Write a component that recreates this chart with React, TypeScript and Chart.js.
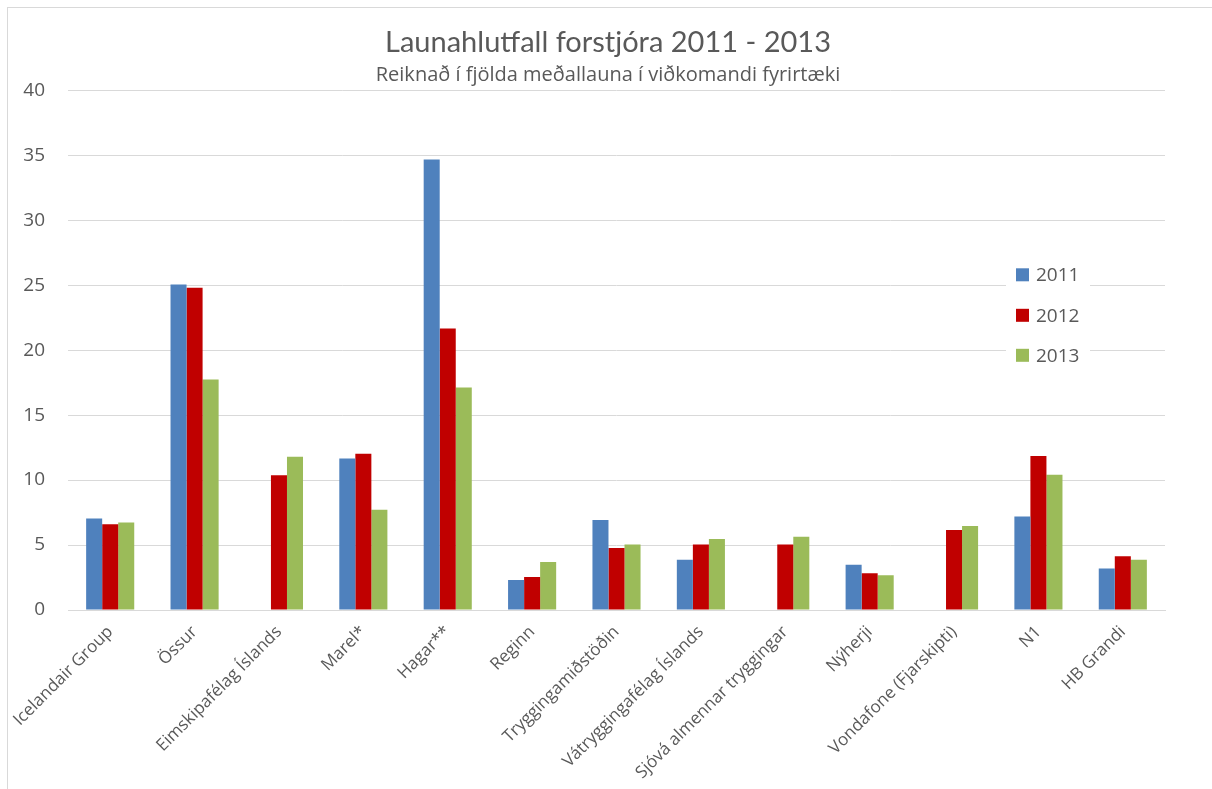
import React, { useEffect, useRef } from "react";
import { Chart, registerables } from "chart.js";

Chart.register(...registerables);

const categories = [
  "Icelandair Group",
  "Össur",
  "Eimskipafélag Íslands",
  "Marel*",
  "Hagar**",
  "Reginn",
  "Tryggingamiðstöðin",
  "Vátryggingafélag Íslands",
  "Sjóvá almennar tryggingar",
  "Nýherji",
  "Vondafone (Fjarskipti)",
  "N1",
  "HB Grandi",
];

const values2011: (number | null)[] = [7.05, 25.05, null, 11.67, 34.67, 2.31, 6.92, 3.87, null, 3.49, null, 7.2, 3.2];
const values2012: (number | null)[] = [6.6, 24.8, 10.38, 12.03, 21.67, 2.54, 4.77, 5.05, 5.05, 2.82, 6.15, 11.85, 4.13];
const values2013: (number | null)[] = [6.74, 17.74, 11.8, 7.72, 17.13, 3.69, 5.05, 5.46, 5.64, 2.67, 6.46, 10.41, 3.87];

const seriesLabels = ["2011", "2012", "2013"];
const seriesColors = ["#4F81BD", "#C00000", "#9BBB59"];

const yTicks = { min: 0, max: 40, step: 5 };

const titleText = "Launahlutfall forstjóra 2011 - 2013";
const subtitleText = "Reiknað í fjölda meðallauna í viðkomandi fyrirtæki";

const FONT = "'Open Sans', sans-serif";
const TEXT = "#595959";
const GRID = "#D9D9D9";

const legendPlugin = {
  id: "insideLegend",
  afterDatasetsDraw(chart: any) {
    const { ctx, chartArea } = chart;
    const boxLeft = chartArea.right - 159;
    const top = chartArea.top + 168;
    ctx.save();
    ctx.fillStyle = "#FFFFFF";
    ctx.fillRect(boxLeft, top, 84, 112);
    const rows = [184.5, 225, 265];
    chart.data.datasets.forEach((ds: any, i: number) => {
      const cy = chartArea.top + rows[i];
      ctx.fillStyle = ds.backgroundColor;
      ctx.fillRect(chartArea.right - 149, cy - 6.5, 13, 13);
      ctx.fillStyle = TEXT;
      ctx.font = `19px ${FONT}`;
      ctx.textBaseline = "middle";
      ctx.textAlign = "left";
      ctx.fillText(ds.label, chartArea.right - 129, cy + 1);
    });
    ctx.restore();
  },
};

export default function App() {
  const ref = useRef<HTMLCanvasElement>(null);

  useEffect(() => {
    if (!ref.current) return;
    const chart = new Chart(ref.current, {
      type: "bar",
      data: {
        labels: categories,
        datasets: [values2011, values2012, values2013].map((vals, i) => ({
          label: seriesLabels[i],
          data: vals,
          backgroundColor: seriesColors[i],
          borderWidth: 0,
          categoryPercentage: 0.57,
          barPercentage: 1,
        })),
      },
      options: {
        animation: false,
        responsive: false,
        maintainAspectRatio: false,
        layout: { padding: { left: 8, right: 12, top: 0, bottom: 0 } },
        plugins: {
          legend: { display: false },
          tooltip: { enabled: false },
          title: {
            display: true,
            text: titleText,
            color: TEXT,
            font: { family: "Lato, sans-serif", size: 29, weight: "normal" },
            padding: { top: 17, bottom: 3 },
          },
          subtitle: {
            display: true,
            text: subtitleText,
            color: TEXT,
            font: { family: FONT, size: 20, weight: "normal" },
            padding: { top: 0, bottom: 3.5 },
          },
        },
        scales: {
          x: {
            grid: { display: false },
            border: { display: true, color: GRID, width: 1 },
            ticks: {
              color: TEXT,
              font: { family: FONT, size: 17 },
              minRotation: 45,
              maxRotation: 45,
              autoSkip: false,
              padding: 4,
            },
            afterFit: (s: any) => {
              s.height = 179;
            },
          },
          y: {
            min: yTicks.min,
            max: yTicks.max,
            grid: { color: GRID, lineWidth: 1, drawTicks: false },
            border: { display: false },
            ticks: {
              stepSize: yTicks.step,
              color: TEXT,
              font: { family: FONT, size: 19 },
              padding: 23,
            },
            afterFit: (s: any) => {
              s.width = 52;
            },
          },
          yRightSpacer: {
            type: "linear",
            position: "right",
            display: true,
            grid: { display: false, drawTicks: false },
            border: { display: false },
            ticks: { display: false },
            afterFit: (s: any) => {
              s.width = 35;
            },
          },
        },
      },
      plugins: [legendPlugin],
    });
    return () => chart.destroy();
  }, []);

  return (
    <div
      style={{
        position: "fixed",
        left: 7,
        top: 7,
        width: 1205,
        height: 782,
        borderLeft: `1px solid ${GRID}`,
        borderTop: `1px solid ${GRID}`,
        background: "#fff",
        overflow: "hidden",
      }}
    >
      <canvas ref={ref} width={1204} height={781} style={{ display: "block", width: 1204, height: 781 }} />
    </div>
  );
}
